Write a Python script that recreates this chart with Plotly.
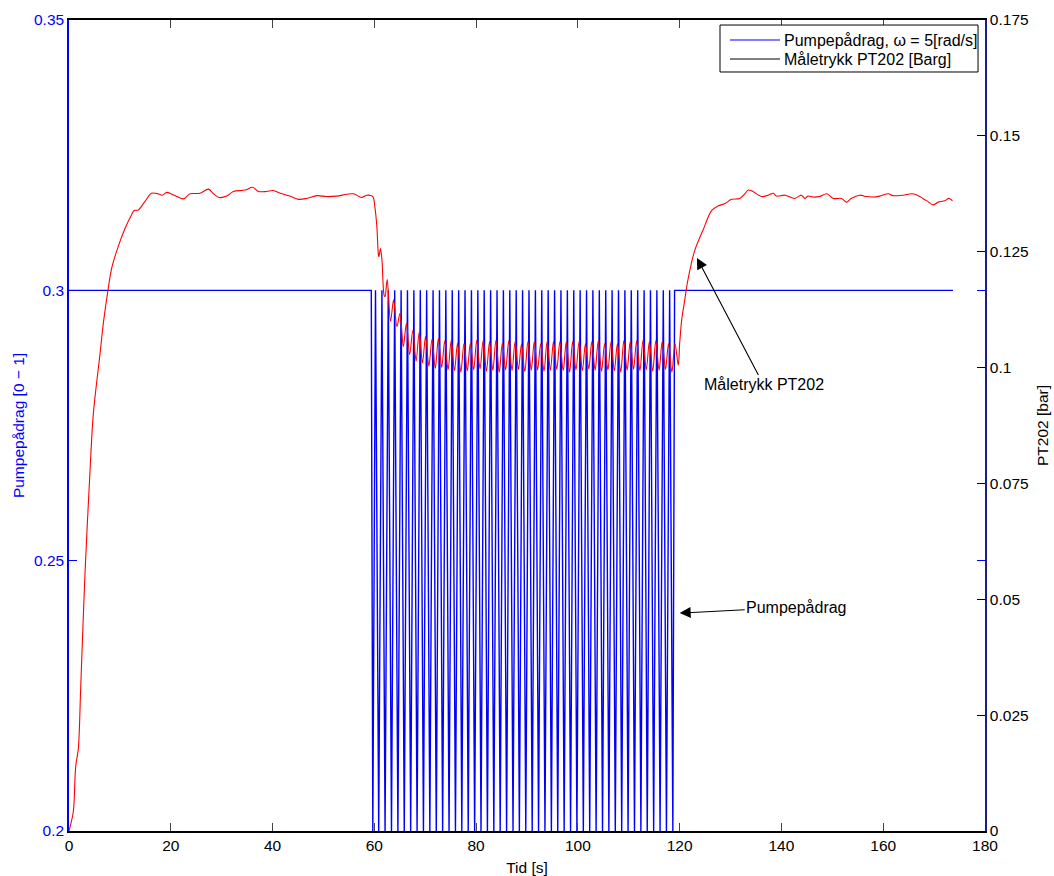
import plotly.graph_objects as go

# --- Pump command (left axis) ---------------------------------------------
# constant level before and after the excitation window
pump_level = 0.3
pump_low = 0.2
pump_start_t = [0.0, 59.4]
pump_end_t = [119.0, 173.7]
# trough / peak instants of the omega = 5 rad/s excitation
pump_trough_t = [59.70, 60.86, 62.11, 63.37, 64.63, 65.88, 67.14, 68.40, 69.65, 70.91,
                 72.17, 73.42, 74.68, 75.94, 77.19, 78.45, 79.71, 80.96, 82.22, 83.48,
                 84.73, 85.99, 87.25, 88.50, 89.76, 91.02, 92.27, 93.53, 94.79, 96.04,
                 97.30, 98.56, 99.81, 101.07, 102.32, 103.58, 104.84, 106.09, 107.35, 108.61,
                 109.86, 111.12, 112.38, 113.63, 114.89, 116.15, 117.40, 118.66]
pump_peak_t = [60.23, 61.49, 62.74, 64.00, 65.26, 66.51, 67.77, 69.03, 70.28, 71.54,
               72.80, 74.05, 75.31, 76.57, 77.82, 79.08, 80.34, 81.59, 82.85, 84.11,
               85.36, 86.62, 87.88, 89.13, 90.39, 91.65, 92.90, 94.16, 95.42, 96.67,
               97.93, 99.19, 100.44, 101.70, 102.95, 104.21, 105.47, 106.72, 107.98, 109.24,
               110.49, 111.75, 113.01, 114.26, 115.52, 116.78, 118.03]

# --- Measured pressure PT202 (right axis, bar) -------------------------------
press_rise_t = [0.0, 0.85, 1.2, 1.38, 1.83, 2.3, 3.14, 4.13, 4.78, 6.1, 6.75, 7.7, 8.4,
                9.45, 11.0, 12.3, 12.8, 13.6, 14.9, 16.2, 17.5, 18.3, 19.2, 20.2, 21.2,
                22.5, 23.8, 25.7, 27.4, 28.4, 29.5, 31.0, 32.3, 34.6, 36.1, 37.2, 38.8,
                40.1, 41.5, 43.4, 45.1, 46.7, 48.7, 50.6, 52.6, 54.6, 55.9, 57.5, 58.5,
                59.7, 60.1, 60.5, 60.8, 60.9, 61.2, 61.5, 61.9, 62.1]
press_rise_p = [0.0, 0.0042, 0.0120, 0.0145, 0.0177, 0.0309, 0.0555, 0.0777, 0.0900,
                0.1030, 0.1096, 0.1170, 0.1215, 0.1254, 0.1300, 0.1330, 0.1339, 0.1340,
                0.1358, 0.1376, 0.1375, 0.1372, 0.1378, 0.1374, 0.1369, 0.1364, 0.1375,
                0.1376, 0.1385, 0.1375, 0.1367, 0.1370, 0.1380, 0.1383, 0.1389, 0.1380,
                0.1380, 0.1382, 0.1376, 0.1370, 0.1363, 0.1365, 0.1371, 0.1369, 0.1370,
                0.1374, 0.1375, 0.1367, 0.1372, 0.1369, 0.1347, 0.1304, 0.1243, 0.1239,
                0.1257, 0.1232, 0.1157, 0.1153]

press_peak_t = [62.53, 63.79, 65.04, 66.30, 67.56, 68.81, 70.07, 71.33, 72.58, 73.84,
                75.10, 76.35, 77.61, 78.87, 80.12, 81.38, 82.64, 83.89, 85.15, 86.41,
                87.66, 88.92, 90.18, 91.43, 92.69, 93.95, 95.20, 96.46, 97.72, 98.97,
                100.23, 101.49, 102.74, 104.00, 105.25, 106.51, 107.77, 109.02, 110.28, 111.54,
                112.79, 114.05, 115.31, 116.56, 117.82, 119.08]
press_peak_p = [0.1190, 0.1146, 0.1117, 0.1095, 0.1080, 0.1076, 0.1068, 0.1061, 0.1063, 0.1058,
                0.1059, 0.1053, 0.1052, 0.1053, 0.1059, 0.1059, 0.1056, 0.1059, 0.1053, 0.1058,
                0.1056, 0.1051, 0.1056, 0.1056, 0.1052, 0.1056, 0.1056, 0.1056, 0.1056, 0.1056,
                0.1056, 0.1052, 0.1056, 0.1058, 0.1052, 0.1056, 0.1052, 0.1058, 0.1056, 0.1058,
                0.1059, 0.1056, 0.1058, 0.1056, 0.1052, 0.1052]
press_trough_t = [63.18, 64.44, 65.69, 66.95, 68.21, 69.46, 70.72, 71.98, 73.23, 74.49,
                  75.75, 77.00, 78.26, 79.52, 80.77, 82.03, 83.29, 84.54, 85.80, 87.06,
                  88.31, 89.57, 90.83, 92.08, 93.34, 94.60, 95.85, 97.11, 98.37, 99.62,
                  100.88, 102.14, 103.39, 104.65, 105.90, 107.16, 108.42, 109.67, 110.93, 112.19,
                  113.44, 114.70, 115.96, 117.21, 118.47, 119.73]
press_trough_p = [0.1100, 0.1088, 0.1045, 0.1028, 0.1014, 0.1010, 0.1003, 0.0998, 0.1000, 0.0995,
                  0.0993, 0.0990, 0.0993, 0.0995, 0.0997, 0.0992, 0.0994, 0.0990, 0.0995, 0.0993,
                  0.0996, 0.0991, 0.0994, 0.0995, 0.0992, 0.0994, 0.0996, 0.0993, 0.0990, 0.0995,
                  0.0993, 0.0997, 0.0994, 0.0992, 0.0995, 0.0993, 0.0990, 0.0994, 0.0996, 0.0993,
                  0.0995, 0.0992, 0.0994, 0.0996, 0.0990, 0.1005]

press_rec_t = [120.0, 120.4, 121.0, 121.5, 122.3, 123.0, 124.6, 126.3, 127.6, 128.9, 130.2,
               131.8, 132.8, 133.5, 134.4, 136.1, 137.4, 138.4, 139.0, 140.7, 142.6, 143.9,
               144.6, 145.2, 146.2, 147.5, 148.9, 150.2, 151.8, 152.8, 153.7, 155.4, 156.7,
               158.0, 159.3, 161.0, 161.9, 163.9, 165.6, 166.5, 167.8, 168.8, 169.8, 170.8,
               172.1, 172.9, 173.6]
press_rec_p = [0.1052, 0.1103, 0.1146, 0.1182, 0.1225, 0.1254, 0.1297, 0.1339, 0.1349, 0.1354,
               0.1363, 0.1365, 0.1375, 0.1383, 0.1380, 0.1369, 0.1372, 0.1376, 0.1370, 0.1372,
               0.1365, 0.1372, 0.1365, 0.1370, 0.1368, 0.1369, 0.1375, 0.1365, 0.1365, 0.1357,
               0.1365, 0.1372, 0.1369, 0.1368, 0.1370, 0.1375, 0.1371, 0.1372, 0.1375, 0.1373,
               0.1365, 0.1358, 0.1351, 0.1357, 0.1360, 0.1365, 0.1360]

left_ticks = [0.2, 0.25, 0.3, 0.35]
right_ticks = [0, 0.025, 0.05, 0.075, 0.1, 0.125, 0.15, 0.175]
x_ticks = [0, 20, 40, 60, 80, 100, 120, 140, 160, 180]

legend_labels = ["Pumpepådrag, ω = 5[rad/s]", "Måletrykk PT202 [Barg]"]
legend_colors = ["#0000FF", "black"]

# assemble the pump polyline
pump_t = list(pump_start_t)
pump_u = [pump_level, pump_level]
for i, tt in enumerate(pump_trough_t):
    pump_t.append(tt)
    pump_u.append(pump_low)
    if i < len(pump_peak_t):
        pump_t.append(pump_peak_t[i])
        pump_u.append(pump_level)
pump_t += pump_end_t
pump_u += [pump_level, pump_level]

# assemble the pressure polyline
press_t = list(press_rise_t)
press_p = list(press_rise_p)
for a, b, c, d in zip(press_peak_t, press_peak_p, press_trough_t, press_trough_p):
    press_t += [a, c]
    press_p += [b, d]
press_t += press_rec_t
press_p += press_rec_p

FONT = "Liberation Sans, Arial, sans-serif"
BLUE = "#0000FF"
RED = "#FF0000"
TICK_SIZE = 15.5
TEXT_SIZE = 16

fig = go.Figure()
fig.add_trace(go.Scatter(x=pump_t, y=pump_u, mode="lines", yaxis="y",
                         line=dict(color=BLUE, width=1.4),
                         name=legend_labels[0], showlegend=False))
fig.add_trace(go.Scatter(x=press_t, y=press_p, mode="lines", yaxis="y2",
                         line=dict(color=RED, width=1.1, shape="spline", smoothing=0.9),
                         showlegend=False, name="PT202"))

fig.update_layout(
    width=1054, height=876,
    margin=dict(l=69, r=69, t=20, b=45, autoexpand=False),
    paper_bgcolor="white", plot_bgcolor="white",
    font=dict(family=FONT, size=TICK_SIZE, color="black"),
    showlegend=False,
    xaxis=dict(range=[0, 180], tickvals=x_ticks, ticks="inside", ticklen=8,
               showline=True, linecolor="black", linewidth=1.5, mirror="ticks",
               showgrid=False, zeroline=False, automargin=False,
               tickfont=dict(size=TICK_SIZE, color="black"),
               title=dict(text="Tid [s]", font=dict(size=TICK_SIZE), standoff=10)),
    yaxis=dict(range=[0.2, 0.35], tickvals=left_ticks,
               ticktext=["0.2", "0.25", "0.3", "0.35"],
               ticks="inside", ticklen=8, tickcolor=BLUE,
               showline=True, linecolor=BLUE, linewidth=1.5, mirror="ticks",
               showgrid=False, zeroline=False, automargin=False,
               tickfont=dict(size=TICK_SIZE, color=BLUE),
               title=dict(text="Pumpepådrag [0 − 1]", font=dict(size=TICK_SIZE, color=BLUE),
                          standoff=6)),
    yaxis2=dict(range=[0, 0.175], tickvals=right_ticks,
                ticktext=["0", "0.025", "0.05", "0.075", "0.1", "0.125", "0.15", "0.175"],
                overlaying="y", side="right", anchor="x",
                ticks="inside", ticklen=8, tickcolor="black",
                showline=True, linecolor="#1c1c8a", linewidth=1.5,
                showgrid=False, zeroline=False, automargin=False,
                tickfont=dict(size=TICK_SIZE, color="black"),
                title=dict(text="PT202 [bar]", font=dict(size=TICK_SIZE, color="black"),
                           standoff=10)),
)

# legend box drawn in paper coordinates
fig.add_shape(type="rect", xref="paper", yref="paper",
              x0=0.7107, x1=0.9924, y0=0.9359, y1=0.9938,
              line=dict(color="black", width=1), fillcolor="white", layer="above")
legend_rows_y = [0.9753, 0.9519]
for label, color, ly in zip(legend_labels, legend_colors, legend_rows_y):
    fig.add_shape(type="line", xref="paper", yref="paper",
                  x0=0.7216, x1=0.7762, y0=ly, y1=ly,
                  line=dict(color=color, width=1.1), layer="above")
    fig.add_annotation(x=0.7784, y=ly, xref="paper", yref="paper",
                       xanchor="left", yanchor="middle", showarrow=False,
                       text=label, font=dict(family=FONT, size=TEXT_SIZE, color="black"))

fig.add_annotation(x=123.4, y=0.306, xref="x", yref="y",
                   ax=136.5, ay=0.2825, axref="x", ayref="y",
                   text="Måletrykk PT202", showarrow=True,
                   arrowhead=2, arrowsize=2, arrowwidth=1.1, arrowcolor="black",
                   font=dict(family=FONT, size=TEXT_SIZE, color="black"))
fig.add_annotation(x=120.0, y=0.2403, xref="x", yref="y",
                   ax=143.0, ay=0.2414, axref="x", ayref="y",
                   text="Pumpepådrag", showarrow=True,
                   arrowhead=2, arrowsize=2, arrowwidth=1.1, arrowcolor="black",
                   font=dict(family=FONT, size=TEXT_SIZE, color="black"))

fig.write_html("out.html")
